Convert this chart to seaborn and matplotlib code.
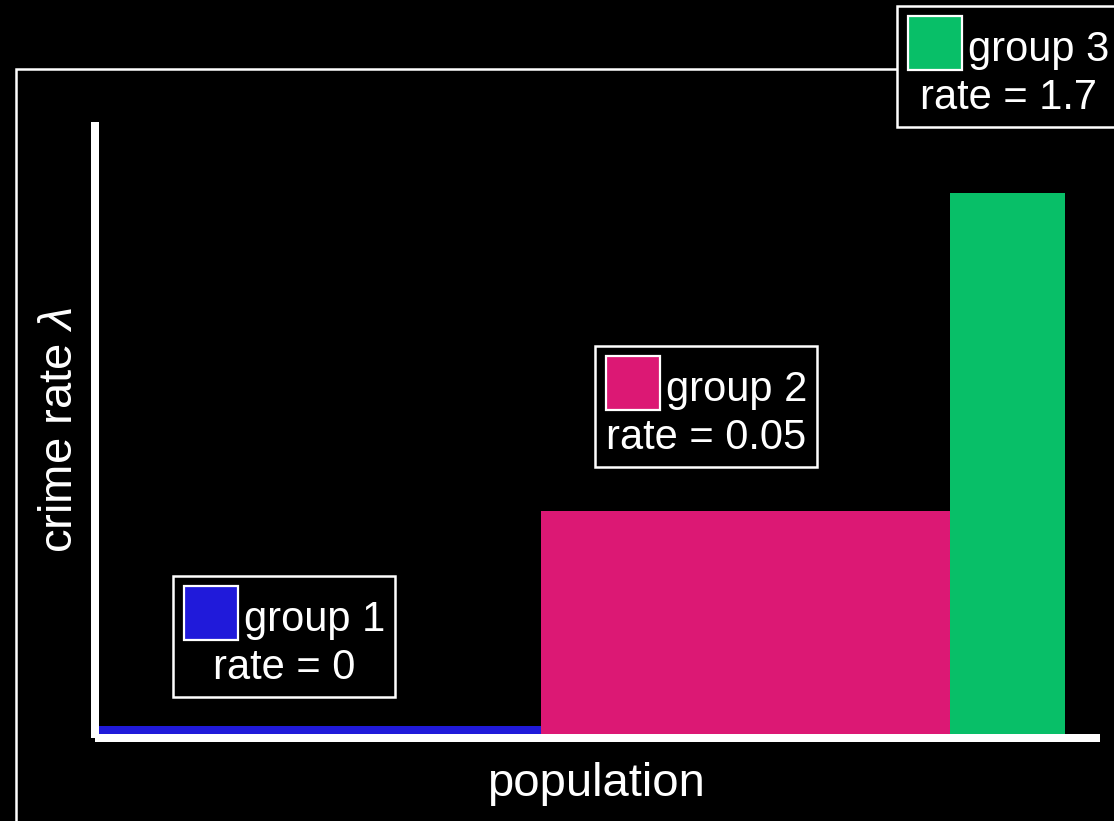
import numpy as np
import matplotlib
matplotlib.use('Agg')
import matplotlib.pyplot as plt
from matplotlib.patches import Rectangle
import seaborn as sns

# data (population share on x, illustrative bar height on y)
groups = ['group 1', 'group 2', 'group 3']
rates = ['0', '0.05', '1.7']
pop_width = [44.3, 41.1, 11.5]
bar_height = [1.3, 36.7, 89.0]
colors = ['#201ADA', '#DC1874', '#08BF68']

# legend box top-left corners, in pixels from top-left of figure
box_pos = [(173, 576), (595, 346), (897, 6)]

sns.set_theme(style='ticks')
plt.rcParams['font.family'] = ['Liberation Sans', 'DejaVu Sans']
plt.rcParams['mathtext.fontset'] = 'custom'
plt.rcParams['mathtext.it'] = 'Liberation Sans:italic'
plt.rcParams['mathtext.rm'] = 'Liberation Sans'

W, H = 1114, 821
def fx(px):
    return px / W
def fy(py):
    return 1 - py / H

fig = plt.figure(figsize=(W / 100, H / 100), dpi=100, facecolor='black')
ax = fig.add_axes([fx(99), fy(734), fx(1096) - fx(99), fy(126) - fy(734)])
ax.set_facecolor('black')

edges = np.concatenate([[0], np.cumsum(pop_width)])
for i in range(len(groups)):
    sns.histplot(x=[(edges[i] + edges[i + 1]) / 2], weights=[bar_height[i]],
                 bins=[edges[i], edges[i + 1]], color=colors[i], alpha=1,
                 linewidth=0, ax=ax)

ax.set_xlim(0, 100)
ax.set_ylim(0, 100)
ax.set_xticks([])
ax.set_yticks([])
for s in ['top', 'right']:
    ax.spines[s].set_visible(False)
for s in ['left', 'bottom']:
    ax.spines[s].set_color('white')
    ax.spines[s].set_linewidth(5.76)
    ax.spines[s].set_position(('outward', 2.88))
    ax.spines[s].set_capstyle('projecting')

ax.set_xlabel('population', color='white', fontsize=34)
ax.xaxis.set_label_coords((596 - 99) / 997, (734 - 796) / 608)
ax.xaxis.label.set_va('baseline')
ax.set_ylabel(r'crime rate $\lambda$', color='white', fontsize=34)
ax.yaxis.set_label_coords((72 - 99) / 997, (734 - 430) / 608)
ax.yaxis.label.set_va('baseline')
ax.yaxis.label.set_ha('center')

# outer frame running off the figure
fig.add_artist(Rectangle((fx(16), fy(1000)), (1400 - 16) / W, (1000 - 69) / H,
                         transform=fig.transFigure, facecolor='none',
                         edgecolor='white', lw=1.8, zorder=1))

for i, (bx, by) in enumerate(box_pos):
    fig.add_artist(Rectangle((fx(bx), fy(by + 121)), 222 / W, 121 / H,
                             transform=fig.transFigure, facecolor='black',
                             edgecolor='white', lw=1.8, zorder=5))
    fig.add_artist(Rectangle((fx(bx + 11), fy(by + 64)), 54 / W, 54 / H,
                             transform=fig.transFigure, facecolor=colors[i],
                             edgecolor='white', lw=1.6, zorder=6))
    fig.text(fx(bx + 71), fy(by + 55), groups[i], color='white', fontsize=30,
             ha='left', va='baseline', zorder=7)
    fig.text(fx(bx + 111), fy(by + 103), f'rate = {rates[i]}', color='white',
             fontsize=30, ha='center', va='baseline', zorder=7)

fig.savefig('out.png', dpi=100, facecolor='black')
